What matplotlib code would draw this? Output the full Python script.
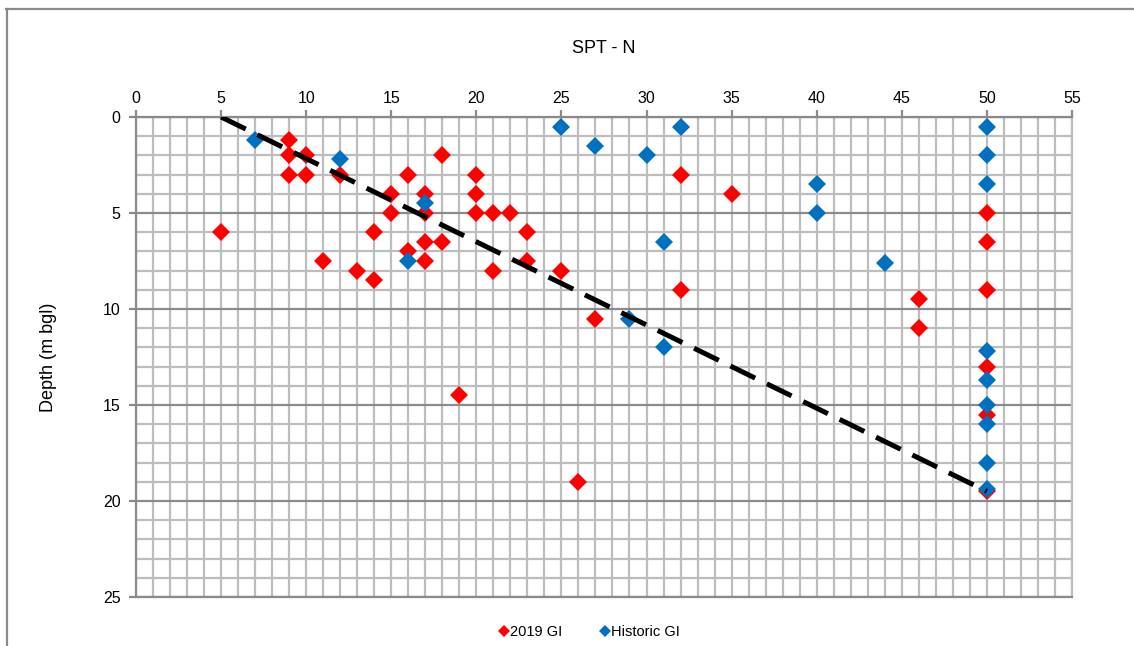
import numpy as np
import matplotlib
matplotlib.use("Agg")
import matplotlib.pyplot as plt
from matplotlib.lines import Line2D

plt.rcParams['font.family'] = ['Liberation Sans', 'DejaVu Sans']

# 2019 GI SPT results (N, depth m bgl)
gi2019_n = [9, 9, 10, 9, 10, 12, 18, 16, 15, 17, 15, 17, 5, 14, 17, 18, 16, 17, 11, 13, 14,
            20, 20, 20, 21, 22, 23, 23, 21, 25, 32, 35, 32,
            50, 50, 50, 46, 27, 46, 19, 26, 50, 50, 50]
gi2019_depth = [1.2, 2, 2, 3, 3, 3, 2, 3, 4, 4, 5, 5, 6, 6, 6.5, 6.5, 7, 7.5, 7.5, 8, 8.5,
                3, 4, 5, 5, 5, 6, 7.5, 8, 8, 3, 4, 9,
                5, 6.5, 9, 9.5, 10.5, 11, 14.5, 19, 13, 15.5, 19.5]

# Historic GI SPT results
hist_n = [7, 12, 17, 16, 25, 27, 30, 32, 31, 40, 40, 44, 29, 31,
          50, 50, 50, 50, 50, 50, 50, 50, 50]
hist_depth = [1.2, 2.2, 4.5, 7.5, 0.5, 1.5, 2, 0.5, 6.5, 3.5, 5, 7.6, 10.5, 12,
              0.5, 2, 3.5, 12.2, 13.7, 15, 16, 18, 19.4]

# design line
line_n = [5, 50]
line_depth = [0, 19.5]

fig = plt.figure(figsize=(11.34, 6.46), dpi=100)
ax = fig.add_axes([0.1199, 0.0759, 0.9453 - 0.1199, 0.8189 - 0.0759])

ax.set_xlim(0, 55)
ax.set_ylim(25, 0)
ax.set_xticks(np.arange(0, 56, 5))
ax.set_xticks(np.arange(0, 56, 1), minor=True)
ax.set_yticks(np.arange(0, 26, 5))
ax.set_yticks(np.arange(0, 26, 1), minor=True)
ax.xaxis.tick_top()

ax.grid(which='minor', color='#bdbdbd', linewidth=1.6, zorder=0)
ax.grid(which='major', axis='x', color='#bdbdbd', linewidth=1.6, zorder=0)
ax.grid(which='major', axis='y', color='#8a8a8a', linewidth=1.6, zorder=0)
ax.set_axisbelow(True)

for s in ['left', 'top', 'bottom']:
    ax.spines[s].set_color('#8a8a8a')
    ax.spines[s].set_linewidth(1.6)
ax.spines['right'].set_color('#bdbdbd')
ax.spines['right'].set_linewidth(1.6)

ax.tick_params(which='major', length=5, width=1.6, color='#8a8a8a', labelsize=11.5, pad=3)
ax.tick_params(which='minor', length=0)
ax.tick_params(axis='y', pad=6)

ax.plot(line_n, line_depth, color='black', linestyle=(0, (5.5, 2.6)), linewidth=3.6, zorder=4)
ax.plot(gi2019_n, gi2019_depth, linestyle='none', marker='D', markersize=9,
        color='#ff0000', markeredgewidth=0, label='2019 GI', zorder=3, clip_on=False)
ax.plot(hist_n, hist_depth, linestyle='none', marker='D', markersize=9,
        color='#0070c0', markeredgewidth=0, label='Historic GI', zorder=3, clip_on=False)

ax.set_ylabel('Depth (m bgl)', fontsize=13, labelpad=33)
fig.text(0.5326, 0.925, 'SPT - N', ha='center', va='center', fontsize=13)

leg = fig.legend(handles=[
    Line2D([], [], linestyle='none', marker='D', markersize=6, color='#ff0000', markeredgewidth=0),
    Line2D([], [], linestyle='none', marker='D', markersize=6, color='#0070c0', markeredgewidth=0)],
    labels=['2019 GI', 'Historic GI'], loc='center', bbox_to_anchor=(0.52, 0.022),
    ncol=2, frameon=False, fontsize=10.5, handlelength=0.6, handletextpad=0.1, columnspacing=2.6)

# outer chart border (top and left visible)
fig.add_artist(Line2D([6 / 1134, 1], [1 - 9 / 646, 1 - 9 / 646], color='#8a8a8a', linewidth=1.6,
                      transform=fig.transFigure))
fig.add_artist(Line2D([7 / 1134, 7 / 1134], [0, 1 - 9 / 646], color='#8a8a8a', linewidth=1.6,
                      transform=fig.transFigure))

fig.savefig('out.png', dpi=100)
